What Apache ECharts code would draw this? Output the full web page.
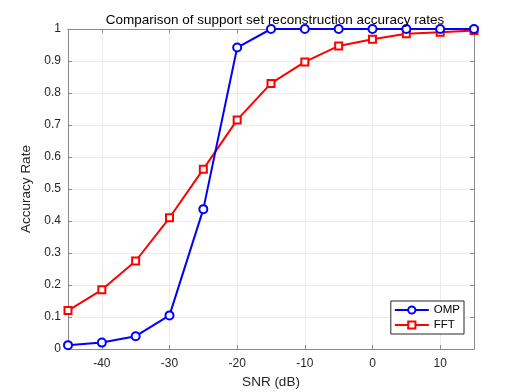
<!DOCTYPE html>
<html>
<head>
<meta charset="utf-8">
<script src="https://cdn.jsdelivr.net/npm/echarts@6/dist/echarts.min.js"></script>
<style>
  html, body { margin: 0; padding: 0; background: #fff; }
  #chart { width: 523px; height: 392px; }
</style>
</head>
<body>
<div id="chart"></div>
<script>
// SNR values (dB)
const snr = [-45, -40, -35, -30, -25, -20, -15, -10, -5, 0, 5, 10, 15];
const ompRate = [0.012, 0.02, 0.04, 0.105, 0.437, 0.942, 1, 1, 1, 1, 1, 1, 1];
const fftRate = [0.12, 0.185, 0.275, 0.41, 0.562, 0.716, 0.83, 0.897, 0.947, 0.968, 0.985, 0.99, 0.995];
const xTicks = [-40, -30, -20, -10, 0, 10];

const font = 'Liberation Sans, Arial, sans-serif';
const chart = echarts.init(document.getElementById('chart'));

const pairs = (ys) => snr.map((x, i) => [x, ys[i]]);

const boxLine = { show: true, onZero: false, lineStyle: { color: '#8a8a8a', width: 1 } };
const gridLine = { show: true, lineStyle: { color: '#ebebeb', width: 1 } };
const tickStyle = { color: '#8a8a8a' };

chart.setOption({
  animation: false,
  backgroundColor: '#fff',
  title: {
    text: 'Comparison of support set reconstruction accuracy rates',
    left: 270, top: 8, textAlign: 'center',
    textStyle: { fontFamily: font, fontSize: 13.5, fontWeight: 'normal', color: '#000' }
  },
  grid: { left: 68, right: 49, top: 29, bottom: 43, outerBoundsMode: 'none', containLabel: false },
  legend: {
    orient: 'vertical',
    right: 59, bottom: 58,
    backgroundColor: '#fff',
    borderColor: '#262626', borderWidth: 1, borderRadius: 0,
    padding: [3, 4, 3, 3],
    itemGap: 3, itemWidth: 34, itemHeight: 9,
    textStyle: { fontFamily: font, fontSize: 11.5, color: '#000' },
    data: ['OMP', 'FFT']
  },
  xAxis: [{
    type: 'value', min: -45, max: 15,
    name: 'SNR (dB)', nameLocation: 'middle', nameGap: 25,
    nameTextStyle: { fontFamily: font, fontSize: 13.5, color: '#262626' },
    axisLine: boxLine,
    axisTick: { show: true, inside: true, length: 4, customValues: xTicks, lineStyle: tickStyle },
    axisLabel: { customValues: xTicks, fontFamily: font, fontSize: 12, color: '#262626', margin: 9 },
    splitLine: Object.assign({ customValues: xTicks }, gridLine)
  }, {
    type: 'value', min: -45, max: 15, position: 'top',
    axisLine: boxLine,
    axisTick: { show: true, inside: true, length: 4, customValues: xTicks, lineStyle: tickStyle },
    axisLabel: { show: false },
    splitLine: { show: false }
  }],
  yAxis: [{
    type: 'value', min: 0, max: 1, interval: 0.1,
    name: 'Accuracy Rate', nameLocation: 'middle', nameGap: 21,
    nameTextStyle: { fontFamily: font, fontSize: 13.5, color: '#262626' },
    axisLine: boxLine,
    axisTick: { show: true, inside: true, length: 4, lineStyle: tickStyle },
    axisLabel: { fontFamily: font, fontSize: 12, color: '#262626', margin: 7,
      formatter: v => String(Math.round(v * 10) / 10) },
    splitLine: gridLine
  }, {
    type: 'value', min: 0, max: 1, interval: 0.1, position: 'right',
    axisLine: boxLine,
    axisTick: { show: true, inside: true, length: 4, lineStyle: tickStyle },
    axisLabel: { show: false },
    splitLine: { show: false }
  }],
  series: [{
    name: 'OMP', type: 'line', data: pairs(ompRate),
    symbol: 'circle', symbolSize: 8, clip: false,
    lineStyle: { color: '#0000ff', width: 2 },
    itemStyle: { color: '#fff', borderColor: '#0000ff', borderWidth: 2 },
    z: 3
  }, {
    name: 'FFT', type: 'line', data: pairs(fftRate),
    symbol: 'rect', symbolSize: 7, clip: false,
    lineStyle: { color: '#ff0000', width: 2 },
    itemStyle: { color: '#fff', borderColor: '#ff0000', borderWidth: 2 },
    z: 2
  }]
});
</script>
</body>
</html>
